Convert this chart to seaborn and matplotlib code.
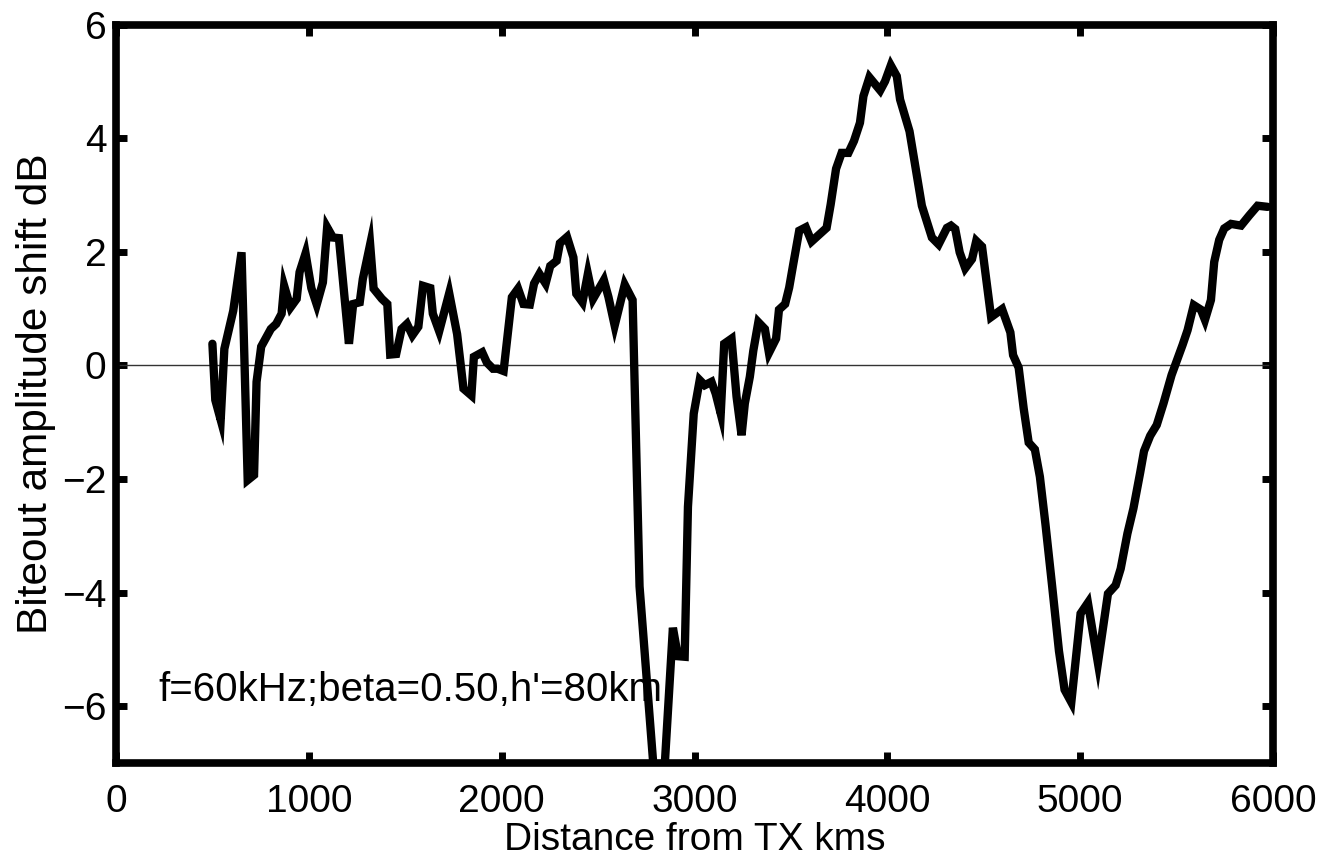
import numpy as np
import pandas as pd
import seaborn as sns
import matplotlib
matplotlib.use('Agg')
import matplotlib.pyplot as plt

# Values
distance_km = [
    500, 515, 543, 562, 608, 651, 683, 716, 729, 753, 803, 831, 859, 872, 905,
    937, 952, 983, 1013, 1041, 1073, 1095, 1125, 1156, 1208, 1230, 1264, 1280,
    1318, 1336, 1379, 1407, 1422, 1453, 1481, 1509, 1537, 1568, 1592, 1630,
    1643, 1676, 1700, 1728, 1769, 1802, 1843, 1856, 1899, 1923, 1955, 1979,
    2010, 2053, 2085, 2113, 2146, 2168, 2196, 2228, 2252, 2285, 2302, 2339,
    2372, 2387, 2419, 2447, 2474, 2530, 2554, 2586, 2638, 2679, 2715, 2820,
    2888, 2914, 2949, 2966, 2996, 3027, 3053, 3088, 3110, 3136, 3154, 3192,
    3218, 3244, 3261, 3287, 3305, 3331, 3365, 3386, 3423, 3438, 3470, 3491,
    3512, 3543, 3577, 3607, 3685, 3706, 3734, 3763, 3798, 3827, 3858, 3876,
    3907, 3963, 3988, 4018, 4049, 4066, 4115, 4179, 4231, 4266, 4309, 4330,
    4352, 4375, 4404, 4439, 4461, 4491, 4538, 4595, 4638, 4652, 4681, 4707,
    4733, 4765, 4791, 4820, 4855, 4890, 4919, 4954, 4976, 5002, 5040, 5092,
    5144, 5184, 5210, 5245, 5276, 5311, 5331, 5363, 5397, 5432, 5474, 5531,
    5557, 5589, 5626, 5647, 5678, 5695, 5721, 5747, 5782, 5834, 5877, 5920,
    5972,
]
shift_db = [
    0.38, -0.61, -0.96, 0.29, 0.96, 1.99, -2.02, -1.93, -0.29, 0.33, 0.64,
    0.73, 0.91, 1.40, 1.02, 1.17, 1.64, 1.97, 1.36, 1.07, 1.46, 2.43, 2.25,
    2.24, 0.38, 1.08, 1.11, 1.52, 2.13, 1.35, 1.17, 1.08, 0.19, 0.20, 0.64,
    0.73, 0.53, 0.68, 1.40, 1.36, 0.91, 0.60, 0.91, 1.27, 0.55, -0.41, -0.53,
    0.15, 0.23, 0.05, -0.06, -0.06, -0.10, 1.20, 1.35, 1.08, 1.07, 1.44,
    1.61, 1.44, 1.75, 1.84, 2.15, 2.26, 1.90, 1.26, 1.11, 1.61, 1.17, 1.50,
    1.20, 0.70, 1.42, 1.15, -3.89, -8.5, -4.62, -5.12, -5.13, -2.49, -0.85,
    -0.26, -0.35, -0.29, -0.50, -0.85, 0.38, 0.47, -0.55, -1.23, -0.67,
    -0.20, 0.26, 0.76, 0.64, 0.22, 0.47, 0.98, 1.08, 1.37, 1.78, 2.37, 2.43,
    2.18, 2.42, 2.83, 3.46, 3.74, 3.74, 3.95, 4.27, 4.74, 5.07, 4.84, 5.00,
    5.28, 5.09, 4.68, 4.12, 2.81, 2.25, 2.13, 2.42, 2.46, 2.40, 1.99, 1.71,
    1.87, 2.19, 2.09, 0.85, 0.99, 0.58, 0.18, -0.04, -0.76, -1.36, -1.48,
    -1.96, -2.80, -3.90, -5.03, -5.71, -5.93, -5.21, -4.37, -4.18, -5.24,
    -4.02, -3.87, -3.58, -2.96, -2.52, -1.89, -1.51, -1.24, -1.05, -0.67,
    -0.17, 0.36, 0.62, 1.06, 0.98, 0.80, 1.15, 1.82, 2.21, 2.41, 2.49, 2.46,
    2.64, 2.81, 2.79,
]
x_ticks = [0, 1000, 2000, 3000, 4000, 5000, 6000]
y_ticks = [-6, -4, -2, 0, 2, 4, 6]
note = "f=60kHz;beta=0.50,h'=80km"

df = pd.DataFrame({'Distance': distance_km, 'Shift': shift_db})

sns.set_style('ticks')
plt.rcParams['font.family'] = ['Liberation Sans', 'DejaVu Sans']
plt.rcParams['text.color'] = 'black'
plt.rcParams['axes.labelcolor'] = 'black'

fs = 28

fig = plt.figure(figsize=(13.24, 8.57), dpi=100)
ax = fig.add_axes([0.0876, 0.1097, 0.9615 - 0.0876, 0.9714 - 0.1097])

ax.axhline(0, color='#333333', linewidth=1.0, zorder=1)
sns.lineplot(data=df, x='Distance', y='Shift', sort=False, ax=ax,
             color='black', linewidth=6, solid_joinstyle='miter', zorder=2)

ax.set_xlim(0, 6000)
ax.set_ylim(-7, 6)
ax.set_xticks(x_ticks)
ax.set_yticks(y_ticks)
ax.tick_params(direction='in', length=8, width=5, labelsize=fs,
               top=True, right=True, colors='black')
ax.tick_params(axis='x', pad=15)
ax.tick_params(axis='y', pad=7)
for s in ax.spines.values():
    s.set_linewidth(5.5)
    s.set_color('black')
    s.set_visible(True)

ax.set_xlabel('Distance from TX kms', fontsize=fs, labelpad=1.5)
ax.set_ylabel('Biteout amplitude shift dB', fontsize=30.5, labelpad=4)
ax.text(218, -5.72, note, fontsize=29, va='center', ha='left')

fig.savefig('out.png', dpi=100)
